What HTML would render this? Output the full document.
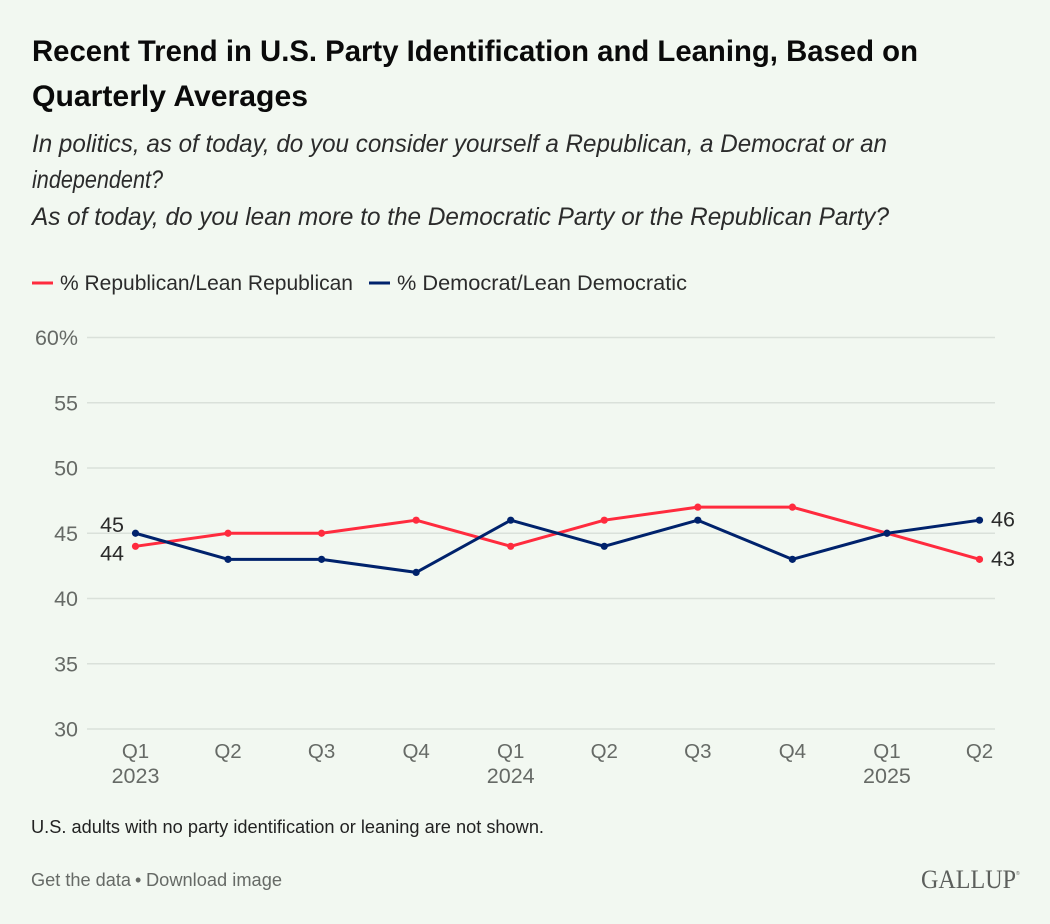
<!DOCTYPE html>
<html lang="en">
<head>
<meta charset="utf-8">
<title>Recent Trend in U.S. Party Identification and Leaning</title>
<style>
html,body{margin:0;padding:0;background:#f2f8f1;}
body{width:1050px;height:924px;overflow:hidden;}
svg{display:block;font-family:"Liberation Sans",sans-serif;}
</style>
</head>
<body>
<svg id="chart" xmlns="http://www.w3.org/2000/svg" width="1050" height="924" viewBox="0 0 1050 924">
  <rect x="0" y="0" width="1050" height="924" fill="#f2f8f1"/>
  <text x="32" y="61" font-size="29.5" font-weight="700" fill="#0a0a0a" textLength="886" lengthAdjust="spacingAndGlyphs">Recent Trend in U.S. Party Identification and Leaning, Based on</text>
  <text x="32" y="106" font-size="29.5" font-weight="700" fill="#0a0a0a" textLength="276" lengthAdjust="spacingAndGlyphs">Quarterly Averages</text>
  <text x="32" y="152" font-size="25" font-style="italic" fill="#2b2b2b" textLength="855" lengthAdjust="spacingAndGlyphs">In politics, as of today, do you consider yourself a Republican, a Democrat or an</text>
  <text x="32" y="188" font-size="25" font-style="italic" fill="#2b2b2b" textLength="131" lengthAdjust="spacingAndGlyphs">independent?</text>
  <text x="32" y="225" font-size="25" font-style="italic" fill="#2b2b2b" textLength="857" lengthAdjust="spacingAndGlyphs">As of today, do you lean more to the Democratic Party or the Republican Party?</text>
  <line x1="32" x2="53" y1="283" y2="283" stroke="#ff2b3e" stroke-width="3"/>
  <text x="60" y="290" font-size="21" fill="#2b2b2b" textLength="293" lengthAdjust="spacingAndGlyphs">% Republican/Lean Republican</text>
  <line x1="369" x2="390" y1="283" y2="283" stroke="#00226c" stroke-width="3"/>
  <text x="397" y="290" font-size="21" fill="#2b2b2b" textLength="290" lengthAdjust="spacingAndGlyphs">% Democrat/Lean Democratic</text>
  <g id="plot"></g>
  <text x="31" y="833" font-size="18.3" fill="#222222" textLength="513" lengthAdjust="spacingAndGlyphs">U.S. adults with no party identification or leaning are not shown.</text>
  <text x="31" y="886" font-size="18" fill="#666a66" textLength="100" lengthAdjust="spacingAndGlyphs">Get the data</text>
  <text x="135" y="886" font-size="18" fill="#666a66">•</text>
  <text x="146" y="886" font-size="18" fill="#666a66" textLength="136" lengthAdjust="spacingAndGlyphs">Download image</text>
  <text x="921" y="888" font-family="'Liberation Serif',serif" font-size="26" fill="#5c5f5c" textLength="95" lengthAdjust="spacingAndGlyphs">GALLUP</text>
  <text x="1016" y="875" font-size="5" fill="#626562">®</text>
</svg>
<script>
const quarterDates = ["2023-01-01","2023-04-01","2023-07-01","2023-10-01","2024-01-01","2024-04-01","2024-07-01","2024-10-01","2025-01-01","2025-04-01"];
const categories = ["Q1","Q2","Q3","Q4","Q1","Q2","Q3","Q4","Q1","Q2"];
const yearLabels = ["2023","","","","2024","","","","2025",""];
const republican = [44,45,45,46,44,46,47,47,45,43];
const democrat = [45,43,43,42,46,44,46,43,45,46];
const yTicks = [60,55,50,45,40,35,30];

const NS = "http://www.w3.org/2000/svg";
const plot = document.getElementById("plot");
const xLeft = 135.5, xRight = 979.5, yTop = 337.5, yBottom = 729;
const yMin = 30, yMax = 60;
const times = quarterDates.map(function(d){ return Date.parse(d); });
function xScale(i){
  return xLeft + (xRight - xLeft) * (times[i] - times[0]) / (times[times.length - 1] - times[0]);
}
function yScale(v){ return yBottom - (yBottom - yTop) * (v - yMin) / (yMax - yMin); }
function make(tag, attrs, text){
  const el = document.createElementNS(NS, tag);
  for (const k in attrs) el.setAttribute(k, attrs[k]);
  if (text !== undefined) el.textContent = text;
  plot.appendChild(el);
  return el;
}

yTicks.forEach(function(t){
  const grid = make("line", {x1:87, x2:995, y1:yScale(t), y2:yScale(t), stroke:"#dae1da", "stroke-width":1.5});
  
  
  const label = make("text", {x:78, y:yScale(t) + 7.5, "text-anchor":"end", "font-size":21.5, fill:"#666a66"}, t === 60 ? "60%" : String(t));
  
  
});

categories.forEach(function(c, i){
  const q = make("text", {x:xScale(i), y:758, "text-anchor":"middle", "font-size":20.5, fill:"#666a66"}, c);
  
  
  if (yearLabels[i]) {
    const yr = make("text", {x:xScale(i), y:783, "text-anchor":"middle", "font-size":21.5, fill:"#666a66"}, yearLabels[i]);
    
    
  }
});

function drawSeries(values, color, key){
  const pts = values.map(function(v, i){ return xScale(i) + "," + yScale(v); }).join(" ");
  const line = make("polyline", {points:pts, fill:"none", stroke:color, "stroke-width":3, "stroke-linejoin":"round"});
  
  
  values.forEach(function(v, i){
    const dot = make("circle", {cx:xScale(i), cy:yScale(v), r:3.6, fill:color});
    
    
  });
}
drawSeries(republican, "#ff2b3e", "republican");
drawSeries(democrat, "#00226c", "democrat");

function endLabel(x, v, anchor, dy, key){
  const lab = make("text", {x:x, y:yScale(v) + dy, "text-anchor":anchor, "font-size":21.5, fill:"#2b2b2b"}, String(v));
  
  
}
const lastIndex = categories.length - 1;
endLabel(xScale(0) - 11.5, democrat[0], "end", -1.5, "democrat-first");
endLabel(xScale(0) - 11.5, republican[0], "end", 14, "republican-first");
endLabel(xScale(lastIndex) + 11.5, democrat[lastIndex], "start", 6.5, "democrat-last");
endLabel(xScale(lastIndex) + 11.5, republican[lastIndex], "start", 6.5, "republican-last");
</script>
</body>
</html>
